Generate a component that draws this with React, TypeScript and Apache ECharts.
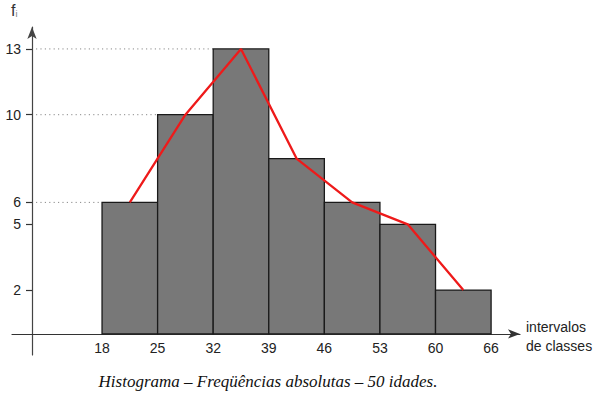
import React, { useEffect, useRef } from "react";
import * as echarts from "echarts";

// Class boundaries (labels under the bar edges)
const boundaryLabels = ["18", "25", "32", "39", "46", "53", "60", "66"];
// Absolute frequencies of each class (sum = 50)
const frequencies = [6, 10, 13, 8, 6, 5, 2];
// Tick values shown on the y axis
const yTicks = [2, 5, 6, 10, 13];
// Bars whose tops get a dotted guide line to the y axis
const guideBars = [0, 1, 2];

const caption = "Histograma – Freqüências absolutas – 50 idades.";
const xAxisName = "intervalos\nde classes";

const Y_AXIS_SHIFT = 20;
const FONT = "'Liberation Sans', Arial, Helvetica, sans-serif";

export default function App() {
  const ref = useRef<HTMLDivElement>(null);

  useEffect(() => {
    if (!ref.current) return;
    const chart = echarts.init(ref.current, null, { renderer: "svg" });

    const barData = frequencies.map((v, i) => [i, v]);
    const polyData = frequencies.map((v, i) => [i + 0.5, v]);
    const guideData = guideBars.map((i) => [i, frequencies[i]]);

    const option: any = {
      animation: false,
      backgroundColor: "#ffffff",
      grid: { left: 12, right: 77, top: 27, bottom: 38, containLabel: false },
      xAxis: {
        type: "value",
        min: -1.62,
        max: 7.52,
        splitLine: { show: false },
        axisLine: {
          show: true,
          onZero: true,
          lineStyle: { color: "#333", width: 1.2 },
          symbol: ["none", "arrow"],
          symbolSize: [7, 12],
        },
        axisTick: { show: false },
        axisLabel: {
          customValues: boundaryLabels.map((_, i) => i),
          formatter: (v: number) => boundaryLabels[Math.round(v)] ?? "",
          fontFamily: FONT,
          fontSize: 14,
          color: "#222",
          margin: -14,
        },
      },
      yAxis: {
        type: "value",
        min: -0.96,
        max: 14.0,
        offset: -Y_AXIS_SHIFT,
        splitLine: { show: false },
        axisLine: {
          show: true,
          onZero: false,
          lineStyle: { color: "#444", width: 1.2 },
          symbol: ["none", "arrow"],
          symbolSize: [7, 12],
        },
        axisTick: {
          show: true,
          customValues: yTicks,
          length: 6,
          lineStyle: { color: "#333", width: 1.2 },
        },
        axisLabel: {
          customValues: yTicks,
          fontFamily: FONT,
          fontSize: 14,
          color: "#222",
          margin: 11,
        },
      },
      series: [
        {
          type: "custom",
          name: "guides",
          data: guideData,
          z: 1,
          renderItem: (params: any, api: any) => {
            const i = api.value(0);
            const v = api.value(1);
            const p = api.coord([i, v]);
            const x0 = params.coordSys.x + Y_AXIS_SHIFT;
            return {
              type: "line",
              shape: { x1: x0 + 4, y1: p[1], x2: p[0], y2: p[1] },
              style: { stroke: "#8a8a8a", lineWidth: 1, lineDash: [1.2, 3.2] },
            };
          },
        },
        {
          type: "custom",
          name: "histogram",
          data: barData,
          z: 2,
          renderItem: (params: any, api: any) => {
            const i = api.value(0);
            const v = api.value(1);
            const p0 = api.coord([i, 0]);
            const p1 = api.coord([i + 1, v]);
            return {
              type: "rect",
              shape: { x: p0[0], y: p1[1], width: p1[0] - p0[0], height: p0[1] - p1[1] },
              style: { fill: "#787878", stroke: "#1a1a1a", lineWidth: 1.3 },
            };
          },
        },
        {
          type: "line",
          name: "polygon",
          data: polyData,
          z: 3,
          symbol: "none",
          lineStyle: { color: "#ee1a1a", width: 2.3 },
        },
      ],
      graphic: [
        {
          type: "text",
          left: 11,
          top: 2,
          style: {
            text: "{f|f}{i|i}",
            rich: {
              f: { fontFamily: FONT, fontSize: 16, fill: "#333" },
              i: { fontFamily: FONT, fontSize: 9, fill: "#777", padding: [8, 0, 0, 0] },
            },
          },
        },
        {
          type: "text",
          left: 526,
          top: 317,
          style: {
            text: xAxisName,
            fontFamily: FONT,
            fontSize: 14,
            lineHeight: 19,
            fill: "#222",
          },
        },
        {
          type: "text",
          x: 268,
          y: 381,
          style: {
            text: caption,
            fontFamily: "'Liberation Serif', 'DejaVu Serif', serif",
            fontStyle: "italic",
            fontSize: 17,
            fill: "#111",
            align: "center",
            verticalAlign: "middle",
          },
        },
      ],
    };

    chart.setOption(option);
    return () => chart.dispose();
  }, []);

  return (
    <div
      ref={ref}
      style={{ position: "fixed", left: 0, top: 0, width: 597, height: 393, background: "#fff" }}
    />
  );
}
